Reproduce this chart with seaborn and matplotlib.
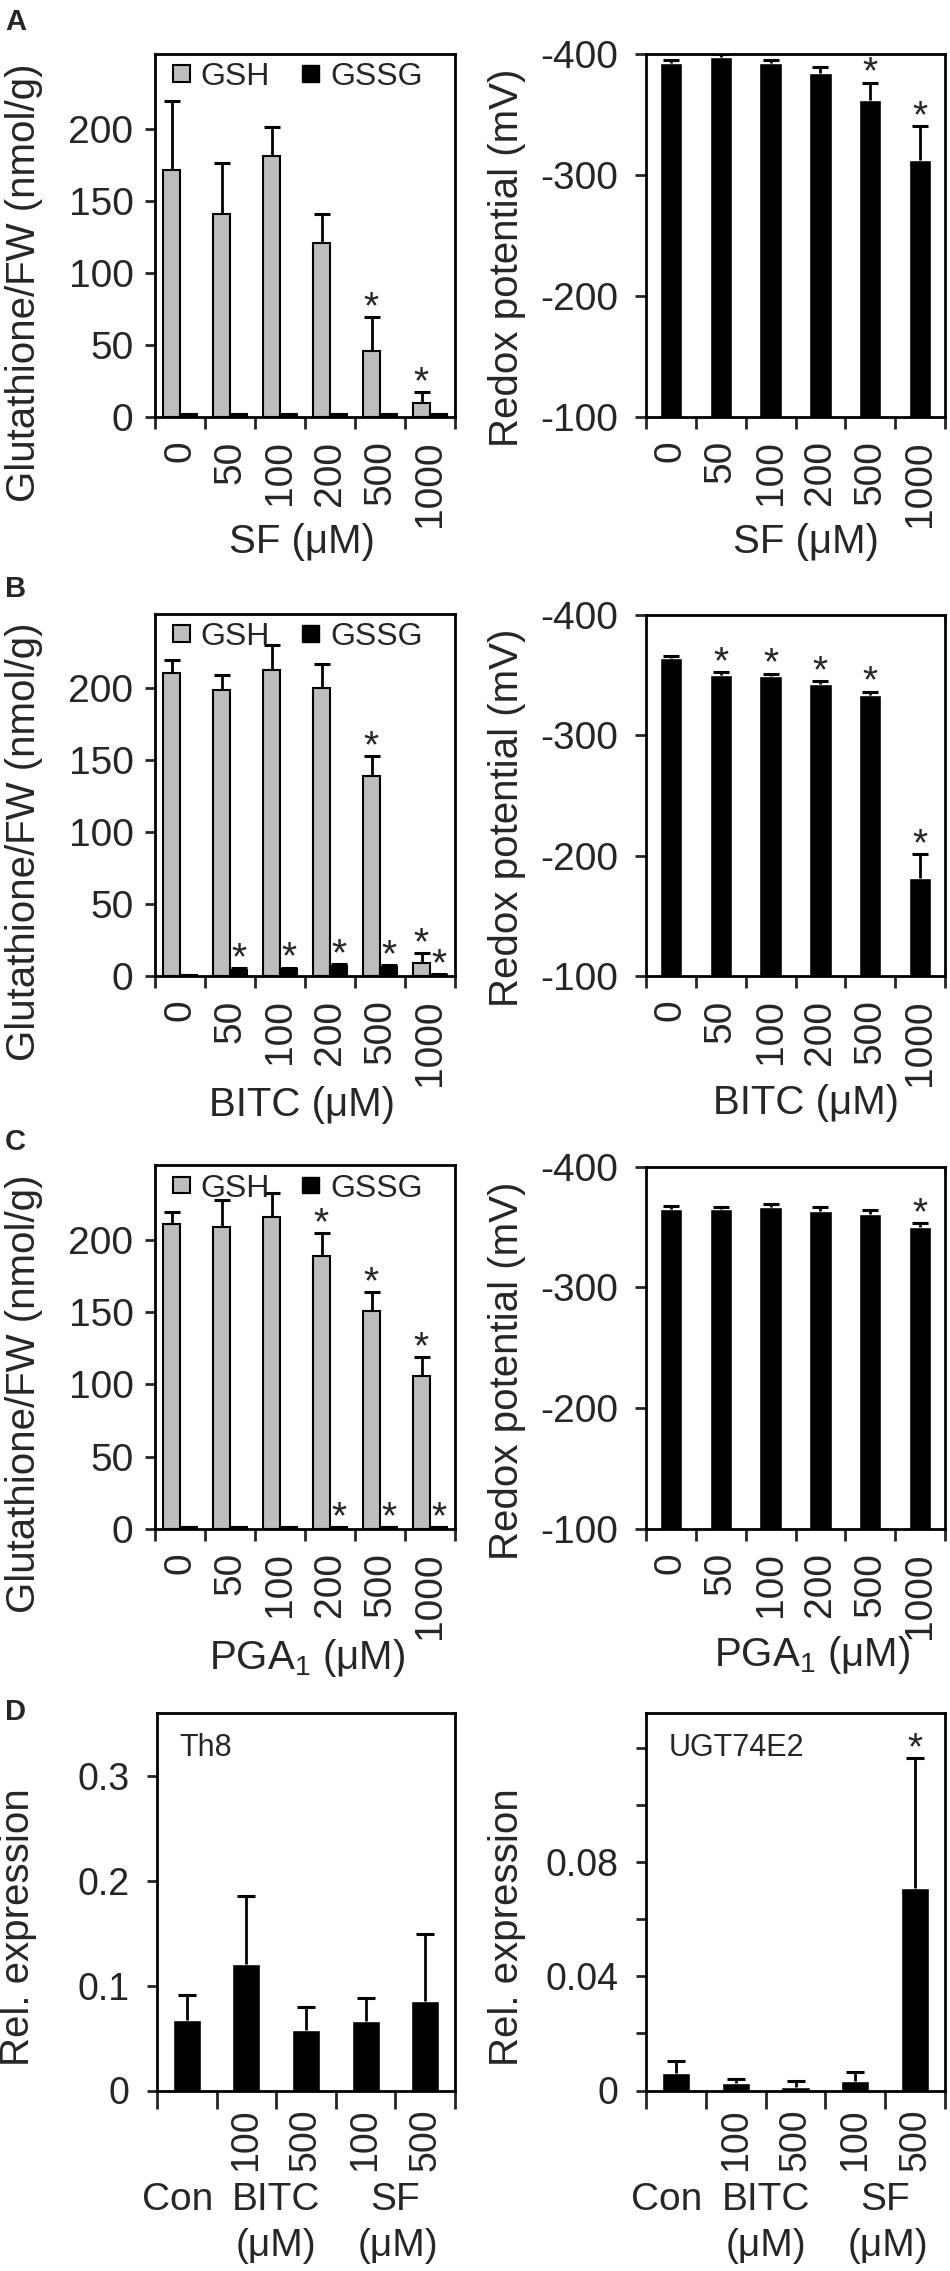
import numpy as np
import pandas as pd
import matplotlib
matplotlib.use("Agg")
import matplotlib.pyplot as plt
from matplotlib.patches import Patch
import seaborn as sns

sns.set_style("ticks")
plt.rcParams["font.family"] = ["Liberation Sans", "DejaVu Sans"]
plt.rcParams["mathtext.fontset"] = "custom"
plt.rcParams["mathtext.rm"] = "Liberation Sans"
plt.rcParams["axes.unicode_minus"] = False

GRAY = "#bdbdbd"

doses = ["0", "50", "100", "200", "500", "1000"]

# A: SF
sf_gsh = [171, 141, 181, 121, 46, 10]
sf_gsh_err = [48, 35, 20, 20, 23, 7]
sf_gssg = [2, 2, 2, 2, 2, 2]
sf_gssg_err = [0, 0, 0, 0, 0, 0]
sf_gsh_sig = [0, 0, 0, 0, 1, 1]
sf_gssg_sig = [0, 0, 0, 0, 0, 0]
sf_redox = [-392, -397, -392, -384, -362, -312]
sf_redox_err = [3, 3, 3, 5, 14, 28]
sf_redox_sig = [0, 0, 0, 0, 1, 1]

# B: BITC
bitc_gsh = [211, 199, 213, 200, 139, 9]
bitc_gsh_err = [9, 10, 17, 17, 14, 7]
bitc_gssg = [0.5, 4.5, 5, 7, 6.5, 1]
bitc_gssg_err = [0, 0.8, 0.8, 1, 1, 0.3]
bitc_gsh_sig = [0, 0, 0, 0, 1, 1]
bitc_gssg_sig = [0, 1, 1, 1, 1, 1]
bitc_redox = [-364, -350, -349, -342, -333, -181]
bitc_redox_err = [2, 2, 2, 2.5, 3, 20]
bitc_redox_sig = [0, 1, 1, 1, 1, 1]

# C: PGA1
pga_gsh = [211, 209, 216, 189, 151, 106]
pga_gsh_err = [9, 19, 17, 16, 13, 13]
pga_gssg = [0.8, 0.8, 0.8, 0.8, 0.8, 0.8]
pga_gssg_err = [0, 0, 0, 0, 0, 0]
pga_gsh_sig = [0, 0, 0, 1, 1, 1]
pga_gssg_sig = [0, 0, 0, 1, 1, 1]
pga_redox = [-365, -365, -366.5, -363, -361, -350]
pga_redox_err = [2.5, 2, 2.5, 3.5, 3.5, 3.5]
pga_redox_sig = [0, 0, 0, 0, 0, 1]

# D: expression
treatments = ["Con", "BITC 100", "BITC 500", "SF 100", "SF 500"]
treat_ticks = ["", "100", "500", "100", "500"]
th8 = [0.067, 0.121, 0.058, 0.066, 0.085]
th8_err = [0.024, 0.065, 0.022, 0.022, 0.064]
th8_sig = [0, 0, 0, 0, 0]
ugt = [0.006, 0.0027, 0.0012, 0.0034, 0.071]
ugt_err = [0.0045, 0.0013, 0.0021, 0.003, 0.0454]
ugt_sig = [0, 0, 0, 0, 1]

gsh_yticks = [0, 50, 100, 150, 200]
redox_yticks = [-400, -300, -200, -100]
redox_yticklabels = ["-400", "-300", "-200", "-100"]
th8_yticks = [0, 0.1, 0.2, 0.3]
th8_yticklabels = ["0", "0.1", "0.2", "0.3"]
ugt_yticks = [0, 0.02, 0.04, 0.06, 0.08, 0.10, 0.12]
ugt_yticklabels = ["0", "", "0.04", "", "0.08", "", ""]

W, H = 950, 2271
fig = plt.figure(figsize=(W / 100, H / 100), dpi=100)


def rect(x0, y0, x1, y1):
    return [x0 / W, 1 - y1 / H, (x1 - x0) / W, (y1 - y0) / H]


def add_err(ax, bars, vals, errs, sign=1, cap=11):
    xs, lo, hi = [], [], []
    for b, v, e in zip(bars, vals, errs):
        if e <= 0:
            continue
        xs.append(b.get_x() + b.get_width() / 2)
        lo.append(v)
        hi.append(v + sign * e)
    ax.vlines(xs, lo, hi, color="black", lw=2, zorder=3)
    ax.plot(xs, hi, ls="none", marker="_", ms=cap, mew=2.2, color="black", zorder=3)


def add_stars(ax, bars, vals, errs, sig, sign=1, size=28):
    for b, v, e, s in zip(bars, vals, errs, sig):
        if s:
            ax.annotate("*", (b.get_x() + b.get_width() / 2, v + sign * e),
                        xytext=(0, 6.5), textcoords="offset points",
                        ha="center", va="center", fontsize=size)


def style_box(ax):
    for sp in ax.spines.values():
        sp.set_linewidth(2)
        sp.set_color("black")


def style_x(ax, labels, pad, size, tlen=8.5):
    n = len(labels)
    ax.set_xlim(-0.5, n - 0.5)
    ax.set_xticks(np.arange(n + 1) - 0.5)
    ax.set_xticklabels([])
    ax.set_xticks(np.arange(n), minor=True)
    ax.set_xticklabels(labels, minor=True, rotation=90, fontsize=size)
    ax.tick_params(axis="x", which="minor", length=0, pad=pad)
    ax.tick_params(axis="x", which="major", length=tlen, width=2)
    ax.set_xlabel("")


def gsh_panel(box, gsh, gsh_err, gssg, gssg_err, gsh_sig, gssg_sig, xlabel, xlab_pos):
    ax = fig.add_axes(rect(*box))
    df = pd.DataFrame({"dose": doses * 2,
                       "form": ["GSH"] * 6 + ["GSSG"] * 6,
                       "value": gsh + gssg})
    sns.barplot(data=df, x="dose", y="value", hue="form", order=doses,
                hue_order=["GSH", "GSSG"], palette={"GSH": GRAY, "GSSG": "black"},
                edgecolor="black", linewidth=1.5, width=0.68, saturation=1,
                errorbar=None, legend=False, ax=ax)
    series = [(gsh, gsh_err, gsh_sig), (gssg, gssg_err, gssg_sig)]
    for bars, (v, e, s) in zip(ax.containers, series):
        add_err(ax, bars, v, e)
        add_stars(ax, bars, v, e, s)
    ax.set_ylim(0, 252)
    ax.set_yticks(gsh_yticks)
    ax.tick_params(axis="y", length=7, width=2, pad=8.5, labelsize=28)
    style_x(ax, doses, 17, 28)
    style_box(ax)
    ax.set_ylabel("Glutathione/FW (nmol/g)", fontsize=29)
    ax.yaxis.set_label_coords(-0.373, 0.37)
    ax.set_xlabel(xlabel, fontsize=29)
    ax.xaxis.set_label_coords(*xlab_pos)
    handles = [Patch(facecolor=GRAY, edgecolor="black", linewidth=1.5),
               Patch(facecolor="black", edgecolor="black")]
    ax.legend(handles, ["GSH", "GSSG"], loc="center left", bbox_to_anchor=(0.06, 0.936),
              ncol=2, frameon=False, fontsize=23, handlelength=0.52, handleheight=0.41,
              handletextpad=0.35, columnspacing=1.0, borderpad=0, borderaxespad=0)
    return ax


def redox_panel(box, vals, errs, sig, xlabel, xlab_pos):
    ax = fig.add_axes(rect(*box))
    sns.barplot(x=doses, y=vals, order=doses, color="black", saturation=1,
                width=0.45, errorbar=None, ax=ax)
    bars = ax.containers[0]
    add_err(ax, bars, vals, errs, sign=-1, cap=12)
    add_stars(ax, bars, vals, errs, sig, sign=-1)
    ax.set_ylim(-100, -400)
    ax.set_yticks(redox_yticks)
    ax.set_yticklabels(redox_yticklabels)
    ax.tick_params(axis="y", length=8, width=2, pad=12, labelsize=28)
    style_x(ax, doses, 17, 28)
    style_box(ax)
    ax.set_ylabel("Redox potential (mV)", fontsize=29)
    ax.yaxis.set_label_coords(-0.40, 0.437)
    ax.set_xlabel(xlabel, fontsize=29)
    ax.xaxis.set_label_coords(*xlab_pos)
    return ax


def expr_panel(box, vals, errs, sig, ymax, yticks, yticklabels, gene):
    ax = fig.add_axes(rect(*box))
    sns.barplot(x=treatments, y=vals, order=treatments, color="black", saturation=1,
                width=0.47, errorbar=None, ax=ax)
    bars = ax.containers[0]
    add_err(ax, bars, vals, errs, cap=13)
    add_stars(ax, bars, vals, errs, sig)
    ax.set_ylim(0, ymax)
    ax.set_yticks(yticks)
    ax.set_yticklabels(yticklabels)
    ax.tick_params(axis="y", length=7, width=2, pad=13, labelsize=27)
    style_x(ax, treat_ticks, 13, 27, tlen=13)
    style_box(ax)
    ax.set_ylabel("Rel. expression", fontsize=29)
    ax.yaxis.set_label_coords(-0.403, 0.434)
    ax.text(0.075, 0.909, gene, transform=ax.transAxes, fontsize=22, va="center")
    tr = ax.get_xaxis_transform()
    for x, y, s in [(-0.15, -0.291, "Con"), (1.5, -0.291, "BITC"), (3.5, -0.291, "SF"),
                    (1.5, -0.413, "(μM)"), (3.55, -0.413, "(μM)")]:
        ax.text(x, y, s, transform=tr, ha="center", va="center", fontsize=28)
    return ax


gsh_panel((155, 53.6, 455, 417), sf_gsh, sf_gsh_err, sf_gssg, sf_gssg_err,
          sf_gsh_sig, sf_gssg_sig, "SF (μM)", (0.49, -0.292))
redox_panel((646, 53.6, 945, 416.5), sf_redox, sf_redox_err, sf_redox_sig,
            "SF (μM)", (0.535, -0.293))

gsh_panel((155, 613.6, 455, 976), bitc_gsh, bitc_gsh_err, bitc_gssg, bitc_gssg_err,
          bitc_gsh_sig, bitc_gssg_sig, "BITC (μM)", (0.49, -0.303))
redox_panel((646, 614.6, 945, 976), bitc_redox, bitc_redox_err, bitc_redox_sig,
            "BITC (μM)", (0.535, -0.30))

gsh_panel((155, 1165.4, 455, 1528.6), pga_gsh, pga_gsh_err, pga_gssg, pga_gssg_err,
          pga_gsh_sig, pga_gssg_sig, "PGA$_\\mathregular{1}$ (μM)", (0.507, -0.298))
redox_panel((646, 1166.8, 945, 1528.6), pga_redox, pga_redox_err, pga_redox_sig,
            "PGA$_\\mathregular{1}$ (μM)", (0.555, -0.29))

expr_panel((157, 1713.4, 455, 2090.5), th8, th8_err, th8_sig, 0.36,
           th8_yticks, th8_yticklabels, "Th8")
expr_panel((646, 1713.4, 945, 2090.5), ugt, ugt_err, ugt_sig, 0.132,
           ugt_yticks, ugt_yticklabels, "UGT74E2")

for letter, y in [("A", 30.4), ("B", 596.8), ("C", 1150), ("D", 1719.8)]:
    fig.text(5 / W, 1 - y / H, letter, fontsize=21, fontweight="bold", va="baseline")

fig.savefig("out.png", dpi=100)
